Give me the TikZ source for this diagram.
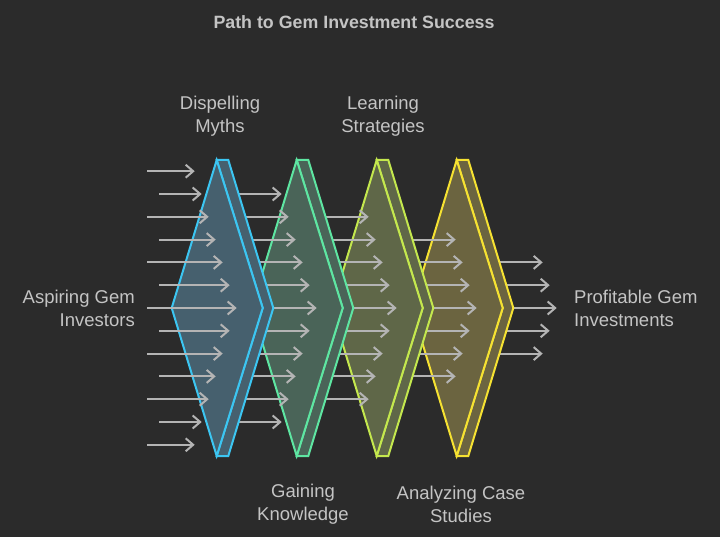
\documentclass[tikz,border=0pt]{standalone}
\usepackage{fontspec}
\setmainfont{Liberation Sans}
\usepackage{xcolor}
\usepackage{tikz}
\usetikzlibrary{arrows.meta}

\definecolor{bgC}{HTML}{2B2B2B}
\definecolor{txtC}{HTML}{C4C4C4}
\definecolor{flowC}{HTML}{B4B4B4}
\definecolor{bluC}{HTML}{3CC6F2}
\definecolor{bluF}{HTML}{46606E}
\definecolor{grnC}{HTML}{5EE6A2}
\definecolor{grnF}{HTML}{4A6458}
\definecolor{limC}{HTML}{C4E84E}
\definecolor{limF}{HTML}{5F6748}
\definecolor{yelC}{HTML}{F6E232}
\definecolor{yelF}{HTML}{6B6440}

\begin{document}
\begin{tikzpicture}[x=1pt, y=-1pt,
    flow/.style={draw=flowC, line width=2pt, -{Straight Barb[length=7.5pt, width=13pt]}},
    stage/.style={line width=2pt, line join=miter},
    label/.style={text=txtC, font=\fontsize{18.5}{23}\selectfont, align=center, inner sep=0pt}]
    % Background and page size
    \fill[bgC] (0,0) rectangle (720,537);
    \useasboundingbox (0,0) rectangle (720,537);

    % Title
    \node[text=txtC, font=\bfseries\fontsize{17.8}{20}\selectfont] (title) at (354,22) {Path to Gem Investment Success};

    % Arrow groups and stages, back to front
    \foreach \k/\lo/\hi/\col/\fil in {5/5/9/yelC/yelF, 4/4/10/limC/limF, 3/3/11/grnC/grnF, 2/2/12/bluC/bluF, 1/1/13/none/none} {
        \foreach \i in {\lo,...,\hi} {
            \pgfmathsetmacro\yy{308+22.8*(\i-7)}
            \pgfmathsetmacro\xs{147.3+80*(\k-1)+12*(1-mod(\i,2))}
            \pgfmathsetmacro\xe{236.7+80*(\k-1)-7*abs(\i-7)}
            \coordinate (s\k-\i) at (\xs,\yy);
            \coordinate (e\k-\i) at (\xe,\yy);
            \draw[flow] (s\k-\i) -- (e\k-\i);
        }
        \ifnum\k>1
            \pgfmathsetmacro\X{80*(\k-2)}
            % side face
            \draw[stage, draw=\col, fill=\fil] (216.7+\X,160) -- (228.3+\X,160) -- (273.3+\X,308)
                -- (228.3+\X,456) -- (216.7+\X,456) -- (262.7+\X,308) -- cycle;
            % front face
            \draw[stage, draw=\col, fill=\fil] (216.7+\X,160) -- (262.7+\X,308)
                -- (216.7+\X,456) -- (171.7+\X,308) -- cycle;
        \fi
    }

    % Stage labels
    \node[label] (myths) at (220,116.5) {Dispelling\\Myths};
    \node[label] (learn) at (383,116.5) {Learning\\Strategies};
    \node[label] (know) at (303,504.5) {Gaining\\Knowledge};
    \node[label] (cases) at (461,504.5) {Analyzing Case\\Studies};

    % Start and end
    \node[label, anchor=east, align=right] (start) at (135,308.5) {Aspiring Gem\\Investors};
    \node[label, anchor=west, align=left] (goal) at (574,308.5) {Profitable Gem\\Investments};
\end{tikzpicture}
\end{document}
